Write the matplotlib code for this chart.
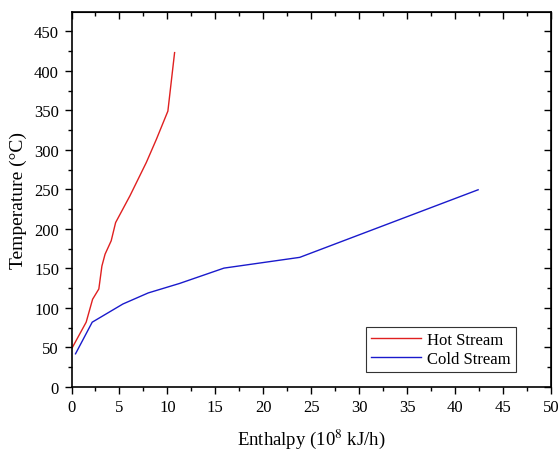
import matplotlib.pyplot as plt
from matplotlib.ticker import MultipleLocator

plt.rcParams['font.family'] = ['Liberation Serif', 'DejaVu Serif']
plt.rcParams['mathtext.fontset'] = 'stix'

hot_h = [0, 1.53, 2.2, 2.85, 3.17, 3.5, 4.14, 4.6, 6.1, 7.8, 8.84, 10.05, 10.75]
hot_t = [48, 82, 111, 124, 153, 168, 185, 208, 242, 284, 313, 349, 423]

cold_h = [0.42, 2.16, 5.36, 8.0, 11.27, 15.9, 23.8, 42.4]
cold_t = [42, 82, 105, 119, 131, 150.4, 164, 249.5]

fig = plt.figure(figsize=(5.6, 4.52), dpi=100)
ax = fig.add_axes([71.5/560, 1 - 388/452, (551 - 71.5)/560, (388 - 13.3)/452])

ax.plot(hot_h, hot_t, color='#e02020', lw=1.0, label='Hot Stream')
ax.plot(cold_h, cold_t, color='#1a1acc', lw=1.0, label='Cold Stream')

ax.set_xlim(0, 50)
ax.set_ylim(0, 474)
ax.xaxis.set_major_locator(MultipleLocator(5))
ax.xaxis.set_minor_locator(MultipleLocator(2.5))
ax.yaxis.set_major_locator(MultipleLocator(50))
ax.yaxis.set_minor_locator(MultipleLocator(25))
ax.set_yticks(range(0, 451, 50))

ax.tick_params(which='both', direction='out', labelsize=12, width=1)
ax.tick_params(which='major', length=5, pad=4)
ax.tick_params(which='minor', length=3)

# mirrored ticks on top and right, pointing inward
sec_x = ax.secondary_xaxis('top')
sec_x.xaxis.set_major_locator(MultipleLocator(5))
sec_x.xaxis.set_minor_locator(MultipleLocator(2.5))
sec_x.tick_params(which='both', direction='in', labeltop=False, width=1)
sec_x.tick_params(which='major', length=5)
sec_x.tick_params(which='minor', length=3)
sec_y = ax.secondary_yaxis('right')
sec_y.yaxis.set_major_locator(MultipleLocator(50))
sec_y.yaxis.set_minor_locator(MultipleLocator(25))
sec_y.tick_params(which='both', direction='in', labelright=False, width=1)
sec_y.tick_params(which='major', length=5)
sec_y.tick_params(which='minor', length=3)

for s in ax.spines.values():
    s.set_linewidth(1.2)

ax.set_xlabel('Enthalpy (10$^{8}$ kJ/h)', fontsize=13.5, labelpad=8)
ax.set_ylabel('Temperature (°C)', fontsize=14, labelpad=5)

leg = ax.legend(loc='lower right', bbox_to_anchor=(1 - 35/479, 15/374.7),
                fontsize=12, fancybox=False, edgecolor='#333333',
                framealpha=1, handlelength=3, borderpad=0.3,
                labelspacing=0.2, handletextpad=0.4, borderaxespad=0)
leg.get_frame().set_linewidth(0.8)

fig.savefig('out.png', dpi=100)
